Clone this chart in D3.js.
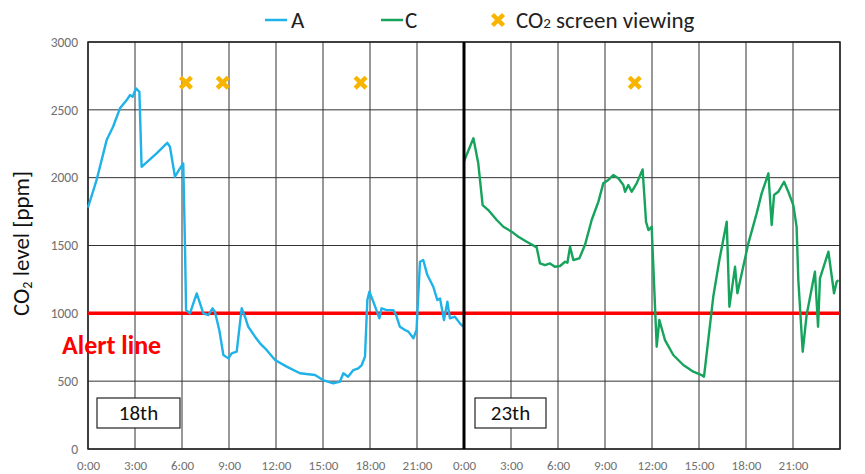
<!DOCTYPE html>
<html><head><meta charset="utf-8">
<script src="https://cdn.jsdelivr.net/npm/d3@7"></script>
<style>body{margin:0;background:#fff}</style>
</head><body><svg id="c" width="865" height="474"></svg>
<script>
// ---- data ----
const seriesNames = ["A", "C"];
const seriesColors = ["#1fb2e8", "#16a35c"];
// Series A: 18th (hours of day)
const hoursA = [0, 0.55, 1.19, 1.6, 2.04, 2.47, 2.68, 2.85, 3.06, 3.28, 3.42, 4.38, 5.06, 5.23, 5.55, 5.87, 6.08, 6.19, 6.26, 6.51, 6.94, 7.36, 7.68, 7.95, 8.1, 8.38, 8.64, 8.96, 9.17, 9.49, 9.81, 10.02, 10.23, 10.66, 10.98, 11.4, 11.94, 12.68, 13.53, 14.49, 15.0, 15.66, 16.08, 16.3, 16.6, 16.94, 17.25, 17.47, 17.68, 17.83, 17.96, 18.21, 18.6, 18.74, 19.06, 19.49, 19.66, 19.91, 20.23, 20.45, 20.77, 20.97, 21.19, 21.4, 21.66, 22.04, 22.3, 22.47, 22.72, 22.94, 23.1, 23.42, 23.74, 23.96];
const valuesA = [1780, 1983, 2277, 2375, 2511, 2572, 2609, 2596, 2658, 2633, 2080, 2179, 2257, 2228, 2007, 2069, 2105, 1500, 1024, 1000, 1147, 1000, 987, 1037, 1012, 877, 693, 668, 705, 717, 1037, 975, 901, 828, 779, 730, 656, 607, 558, 545, 508, 484, 496, 558, 533, 582, 595, 619, 680, 1098, 1159, 1086, 963, 1037, 1024, 1024, 988, 901, 877, 865, 816, 877, 1380, 1393, 1282, 1196, 1098, 1110, 951, 1086, 963, 975, 926, 901];
// Series C: 23rd (hours of day)
const hoursC = [0, 0.6, 0.91, 1.19, 1.55, 2.09, 2.51, 3.04, 3.47, 4.0, 4.64, 4.85, 5.17, 5.49, 5.8, 6.13, 6.45, 6.6, 6.77, 6.98, 7.36, 7.72, 8.15, 8.58, 8.89, 9.21, 9.53, 9.85, 10.17, 10.28, 10.49, 10.7, 11.02, 11.4, 11.62, 11.77, 11.98, 12.13, 12.3, 12.47, 12.83, 13.36, 14.0, 14.64, 15.17, 15.32, 15.91, 16.3, 16.77, 16.94, 17.3, 17.45, 18.15, 18.68, 19.0, 19.43, 19.64, 19.79, 20.06, 20.43, 20.7, 21.02, 21.23, 21.34, 21.62, 21.87, 22.4, 22.6, 22.72, 23.26, 23.62, 23.79, 23.9];
const valuesC = [2120, 2290, 2106, 1798, 1761, 1688, 1638, 1602, 1565, 1528, 1486, 1368, 1356, 1368, 1343, 1349, 1380, 1373, 1491, 1393, 1405, 1503, 1688, 1823, 1958, 1983, 2019, 1995, 1946, 1896, 1946, 1896, 1958, 2061, 1675, 1614, 1638, 1221, 754, 951, 803, 693, 619, 570, 545, 533, 1122, 1393, 1675, 1049, 1343, 1148, 1516, 1737, 1884, 2032, 1651, 1872, 1896, 1970, 1896, 1798, 1638, 1245, 717, 988, 1307, 901, 1258, 1454, 1148, 1233, 1245];
const viewingHours = [6.25, 8.6, 17.4, 34.9];   // continuous hours over the two panels
const viewingLevel = 2700;
const alertLevel = 1000;
const alertLabel = "Alert line";
const yTicks = [0, 500, 1000, 1500, 2000, 2500, 3000];
const xTickHours = [0, 3, 6, 9, 12, 15, 18, 21, 24, 27, 30, 33, 36, 39, 42, 45];
const xTickLabels = ["0:00","3:00","6:00","9:00","12:00","15:00","18:00","21:00","0:00","3:00","6:00","9:00","12:00","15:00","18:00","21:00"];
const dayLabels = ["18th", "23th"];
const yTitle = "CO2 level [ppm]";

// ---- chart ----
const svg = d3.select("#c");
const FONT = "Carlito,'Liberation Sans',Arial,sans-serif";
const x = d3.scaleLinear().domain([0, 48]).range([88, 840]);
const y = d3.scaleLinear().domain([0, 3000]).range([449, 42]);

// gridlines
svg.append("g").selectAll("line").data(yTicks).join("line")
  .attr("x1", x(0)).attr("x2", x(48)).attr("y1", d => y(d)).attr("y2", d => y(d))
  .attr("stroke", "#333").attr("stroke-width", 1);
svg.append("g").selectAll("line").data(xTickHours.concat([48])).join("line")
  .attr("y1", y(0)).attr("y2", y(3000)).attr("x1", d => x(d)).attr("x2", d => x(d))
  .attr("stroke", "#333").attr("stroke-width", 1);
svg.append("rect").attr("x", x(0)).attr("y", y(3000)).attr("width", x(48) - x(0)).attr("height", y(0) - y(3000))
  .attr("fill", "none").attr("stroke", "#222").attr("stroke-width", 1.5);

// axes labels
const yAxis = svg.append("g").attr("transform", `translate(${x(0) - 10},0)`)
  .call(d3.axisLeft(y).tickValues(yTicks).tickFormat(d3.format("d")).tickSize(0).tickPadding(0));
yAxis.select(".domain").remove();
yAxis.selectAll("text").attr("fill", "#707070").style("font-family", FONT).style("font-size", "13.5px");

const xAxis = svg.append("g").attr("transform", `translate(0,${y(0) + 8})`)
  .call(d3.axisBottom(x).tickValues(xTickHours).tickFormat((d, i) => xTickLabels[i]).tickSize(0).tickPadding(4));
xAxis.select(".domain").remove();
xAxis.selectAll("text").attr("fill", "#707070").style("font-family", FONT).style("font-size", "13px");

// y title
const yt = svg.append("text").attr("transform", `translate(29,${(y(0) + y(3000)) / 2 - 2}) rotate(-90)`)
  .attr("text-anchor", "middle").style("font-family", FONT).style("font-size", "23px").attr("fill", "#111");
yt.append("tspan").text(yTitle.slice(0, 2));
yt.append("tspan").text(yTitle.slice(2, 3)).style("font-size", "14px").attr("dy", 3);
yt.append("tspan").text(yTitle.slice(3)).attr("dy", -3);

// alert line
svg.append("line").attr("x1", x(0)).attr("x2", x(48)).attr("y1", y(alertLevel)).attr("y2", y(alertLevel))
  .attr("stroke", "#ff0000").attr("stroke-width", 3.5);
svg.append("text").attr("x", 62).attr("y", 354).text(alertLabel)
  .style("font-family", FONT).style("font-size", "26px").style("font-weight", "bold").attr("fill", "#ff0000");

// lines
const line = d3.line().x(d => x(d[0])).y(d => y(d[1]));
const dataA = hoursA.map((h, i) => [h, valuesA[i]]);
const dataC = hoursC.map((h, i) => [h + 24, valuesC[i]]);
svg.append("path").datum(dataA).attr("d", line).attr("fill", "none").attr("stroke", seriesColors[0]).attr("stroke-width", 2.4).attr("stroke-linejoin", "round");
svg.append("path").datum(dataC).attr("d", line).attr("fill", "none").attr("stroke", seriesColors[1]).attr("stroke-width", 2.4).attr("stroke-linejoin", "round");

// day separator
svg.append("line").attr("x1", x(24)).attr("x2", x(24)).attr("y1", y(3000)).attr("y2", y(0))
  .attr("stroke", "#000").attr("stroke-width", 3);

// markers
const cross = d3.symbol().type(d3.symbolX).size(80);
svg.append("g").selectAll("path").data(viewingHours).join("path")
  .attr("d", cross).attr("transform", d => `translate(${x(d)},${y(viewingLevel)})`)
  .attr("fill", "none").attr("stroke", "#f7b500").attr("stroke-width", 4.5);

// day label boxes
const boxes = [{ h: 0, label: dayLabels[0] }, { h: 24, label: dayLabels[1] }];
boxes.forEach((b, i) => {
  const bx = x(b.h) + (i === 0 ? 9 : 11);
  const bw = i === 0 ? 83 : 71;
  svg.append("rect").attr("x", bx).attr("y", 398).attr("width", bw).attr("height", 30)
    .attr("fill", "#fff").attr("stroke", "#222").attr("stroke-width", 1.2);
  svg.append("text").attr("x", bx + bw / 2).attr("y", 420).attr("text-anchor", "middle")
    .text(b.label).style("font-family", FONT).style("font-size", "21px").attr("fill", "#111");
});

// legend
const lg = svg.append("g").style("font-family", FONT).style("font-size", "23px");
[[265, 291], [381, 405]].forEach((p, i) => {
  lg.append("line").attr("x1", p[0]).attr("x2", p[0] + 22).attr("y1", 20).attr("y2", 20)
    .attr("stroke", seriesColors[i]).attr("stroke-width", 2.5);
  lg.append("text").attr("x", p[1]).attr("y", 28).text(seriesNames[i]).attr("fill", "#222");
});
lg.append("path").attr("d", cross).attr("transform", "translate(498,20)")
  .attr("fill", "none").attr("stroke", "#f7b500").attr("stroke-width", 4.5);
const lt = lg.append("text").attr("x", 516).attr("y", 28).attr("fill", "#222");
lt.append("tspan").text("CO");
lt.append("tspan").text("2").style("font-size", "15px");
lt.append("tspan").text(" screen viewing");
</script></body></html>
